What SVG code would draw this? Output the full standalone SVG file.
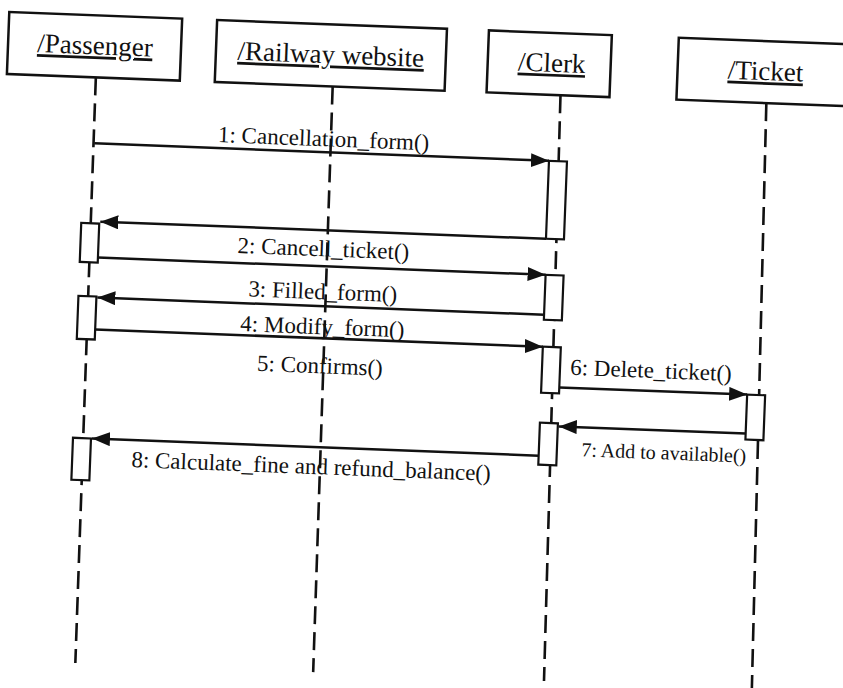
<svg xmlns="http://www.w3.org/2000/svg" width="843" height="688" viewBox="0 0 843 688">
<style>
.box{fill:#fff;stroke:#111;stroke-width:2.5}
.hd{font-family:"Liberation Serif","Times New Roman",serif;font-size:27px;fill:#111;text-anchor:middle;text-decoration:underline}
.lb{font-family:"Liberation Serif","Times New Roman",serif;font-size:23px;fill:#111;text-anchor:middle}
.life{stroke:#111;stroke-width:2.6;stroke-dasharray:18 8;fill:none}
.act{fill:#fff;stroke:#111;stroke-width:2.2}
.msg{stroke:#111;stroke-width:2.5;fill:none;marker-end:url(#ah)}
</style>
<defs>
<marker id="ah" markerUnits="userSpaceOnUse" markerWidth="19" markerHeight="14" refX="18" refY="7" orient="auto">
<path d="M0,0 L18,7 L0,14 z" fill="#111"/>
</marker>
</defs>
<rect width="843" height="688" fill="#fff"/>
<g transform="rotate(2.2 420 340)">
<g id="passenger">
<rect class="box" x="-3" y="28" width="173" height="62"/>
<text class="hd" x="84" y="67">/Passenger</text>
<line class="life" x1="86" y1="90" x2="88" y2="676"/>
</g>
<g id="railway">
<rect class="box" x="205" y="28" width="230" height="62"/>
<text class="hd" x="320" y="67">/Railway website</text>
<line class="life" x1="323" y1="90" x2="326" y2="676"/>
</g>
<g id="clerk">
<rect class="box" x="477" y="28" width="123" height="62"/>
<text class="hd" x="541" y="67">/Clerk</text>
<line class="life" x1="551" y1="90" x2="557" y2="676"/>
</g>
<g id="ticket">
<rect class="box" x="667" y="28" width="220" height="62"/>
<text class="hd" x="755" y="67">/Ticket</text>
<line class="life" x1="757" y1="90" x2="765" y2="676"/>
</g>
<g id="activations">
<rect class="act" x="542" y="156" width="18" height="78"/>
<rect class="act" x="77" y="236" width="18" height="39"/>
<rect class="act" x="543" y="270" width="18" height="45"/>
<rect class="act" x="77" y="309" width="18" height="43"/>
<rect class="act" x="543" y="342" width="18" height="46"/>
<rect class="act" x="749" y="382" width="18" height="45"/>
<rect class="act" x="543" y="418" width="18" height="42"/>
<rect class="act" x="77" y="451" width="18" height="42"/>
</g>
<g id="connectors">
<line class="msg" x1="87" y1="156" x2="542" y2="156"/>
<line class="msg" x1="542" y1="234" x2="96" y2="234"/>
<line class="msg" x1="95" y1="270" x2="543" y2="270"/>
<line class="msg" x1="543" y1="310" x2="96" y2="310"/>
<line class="msg" x1="95" y1="342" x2="543" y2="342"/>
<line class="msg" x1="561" y1="382" x2="749" y2="382"/>
<line class="msg" x1="749" y1="421" x2="562" y2="421"/>
<line class="msg" x1="543" y1="451" x2="96" y2="451"/>
</g>
<g id="labels">
<text class="lb" x="316" y="150">1: Cancellation_form()</text>
<text class="lb" x="320" y="260">2: Cancell_ticket()</text>
<text class="lb" x="321" y="303">3: Filled_form()</text>
<text class="lb" x="322" y="338">4: Modify_form()</text>
<text class="lb" x="321" y="377">5: Confirms()</text>
<text class="lb" x="652" y="369">6: Delete_ticket()</text>
<text class="lb" x="668" y="450" style="font-size:20px">7: Add to available()</text>
<text class="lb" x="316" y="478">8: Calculate_fine and refund_balance()</text>
</g>
</g>
</svg>
